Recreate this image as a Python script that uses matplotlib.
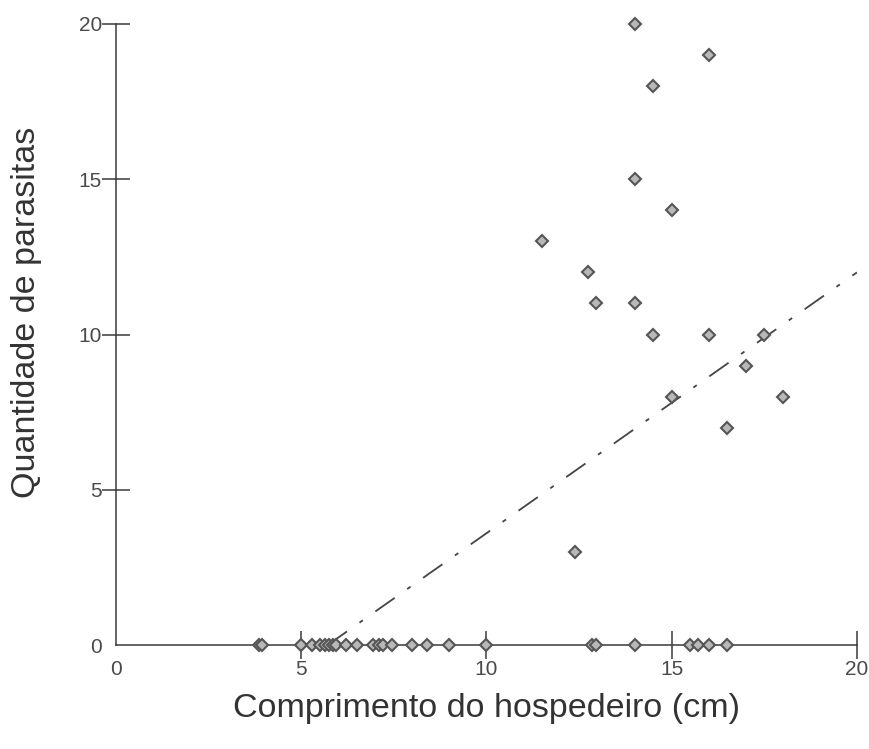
import matplotlib
matplotlib.use("Agg")
import matplotlib.pyplot as plt
import numpy as np

plt.rcParams['font.family'] = ['Liberation Sans', 'DejaVu Sans']
plt.rcParams['lines.scale_dashes'] = False

# Data: host length (cm) vs number of parasites
length_zero = [3.85, 3.95, 5.0, 5.3, 5.5, 5.65, 5.75, 5.85, 5.95, 6.2, 6.5,
               6.95, 7.1, 7.2, 7.45, 8.0, 8.4, 9.0, 10.0, 12.85, 12.95, 14.0,
               15.5, 15.7, 16.0, 16.5]
parasites_zero = [0] * len(length_zero)
length_pos = [11.5, 12.75, 12.95, 14.0, 14.0, 14.0, 14.5, 14.5, 15.0, 15.0,
              16.0, 16.0, 17.5, 17.0, 18.0, 16.5, 12.4]
parasites_pos = [13, 12, 11, 11, 15, 20, 18, 10, 14, 8,
                 19, 10, 10, 9, 8, 7, 3]
length = length_zero + length_pos
parasites = parasites_zero + parasites_pos

trend_slope = 0.84
trend_intercept = -4.8

xticks = [0, 5, 10, 15, 20]
yticks = [0, 5, 10, 15, 20]

fig = plt.figure(figsize=(8.7, 7.49), dpi=100)
ax = fig.add_axes([0.1333, 0.1388, 0.985 - 0.1333, 0.968 - 0.1388])

axis_col = '#3a3a3a'
text_col = '#4a4a4a'

# trend line
x_start = -trend_intercept / trend_slope
xt = np.linspace(x_start, 20, 50)
ax.plot(xt, trend_intercept + trend_slope * xt, color='#444444', lw=1.3,
        linestyle=(0, (17, 11, 3, 11)), zorder=2)

ax.plot(length, parasites, linestyle='none', marker='D', markersize=6.6,
        markerfacecolor='#b8b8b8', markeredgecolor='#555555',
        markeredgewidth=1.5, clip_on=False, zorder=3)

ax.set_xlim(0, 20)
ax.set_ylim(0, 20)
for s in ['top', 'right']:
    ax.spines[s].set_visible(False)
for s in ['left', 'bottom']:
    ax.spines[s].set_color(axis_col)
    ax.spines[s].set_linewidth(1.1)
    ax.spines[s].set_zorder(2.5)

ax.set_xticks(xticks)
ax.set_yticks(yticks)
ax.set_xticklabels([str(v) for v in xticks])
ax.set_yticklabels([str(v) for v in yticks])
ax.tick_params(axis='both', direction='inout', length=20, width=1.1,
               color=axis_col, labelsize=15, labelcolor=text_col)
ax.tick_params(axis='x', pad=1)
ax.tick_params(axis='y', pad=0)
ax.xaxis.get_major_ticks()[0].tick1line.set_visible(False)
ax.yaxis.get_major_ticks()[0].tick1line.set_visible(False)

ax.set_xlabel('Comprimento do hospedeiro (cm)', fontsize=24.5,
              color='#333333')
ax.set_ylabel('Quantidade de parasitas', fontsize=24.5,
              color='#333333')
ax.xaxis.set_label_coords(0.5, -0.078)
ax.yaxis.set_label_coords(-0.1, 0.536)

fig.savefig('out.png', dpi=100)
